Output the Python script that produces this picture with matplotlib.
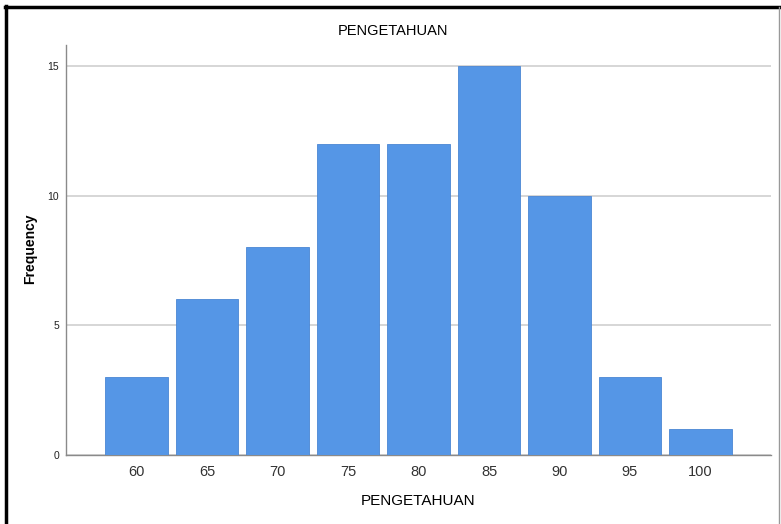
import matplotlib
matplotlib.use("Agg")
import matplotlib.pyplot as plt
from matplotlib.lines import Line2D

plt.rcParams["font.family"] = ["Liberation Sans", "DejaVu Sans"]

categories = ["60", "65", "70", "75", "80", "85", "90", "95", "100"]
frequency = [3, 6, 8, 12, 12, 15, 10, 3, 1]

fig = plt.figure(figsize=(7.81, 5.24), dpi=100)
ax = fig.add_axes([66 / 781, 69 / 524, 705 / 781, 410 / 524])

x = list(range(len(categories)))
ax.bar(x, frequency, width=0.89, color="#5596e6", edgecolor="#4a86d4",
       linewidth=0.6, zorder=3)

ax.set_xlim(-1, len(categories))
ax.set_ylim(0, 15.8)
ax.set_xticks(x)
ax.set_xticklabels(categories, fontsize=10.5, color="#333333")
ax.set_yticks([0, 5, 10, 15])
ax.tick_params(axis="y", labelsize=7.5, length=0, pad=5, colors="#222222")
ax.tick_params(axis="x", length=0, pad=7)
ax.grid(axis="y", color="#d0d0d0", linewidth=1.2, zorder=0)

for s in ["top", "right"]:
    ax.spines[s].set_visible(False)
for s in ["left", "bottom"]:
    ax.spines[s].set_color("#8a8a8a")
    ax.spines[s].set_linewidth(1.0)

ax.set_xlabel("PENGETAHUAN", fontsize=11, labelpad=11)
ax.set_ylabel("Frequency", fontsize=10, fontweight="bold")
ax.yaxis.set_label_coords((37 - 66) / 705, (524 - 249 - 69) / 410)
fig.text(393 / 781, 1 - 31 / 524, "PENGETAHUAN", fontsize=10.5,
         ha="center", va="center")

# frame around the chart
fig.add_artist(Line2D([6 / 781, 6 / 781], [0, 1 - 6 / 524], color="black",
                      linewidth=2.5, transform=fig.transFigure))
fig.add_artist(Line2D([5 / 781, 780 / 781], [1 - 7 / 524, 1 - 7 / 524],
                      color="black", linewidth=2.5, transform=fig.transFigure))
fig.add_artist(Line2D([779 / 781, 779 / 781], [0, 1 - 7 / 524],
                      color="#999999", linewidth=1.0, transform=fig.transFigure))

fig.savefig("out.png", dpi=100)
